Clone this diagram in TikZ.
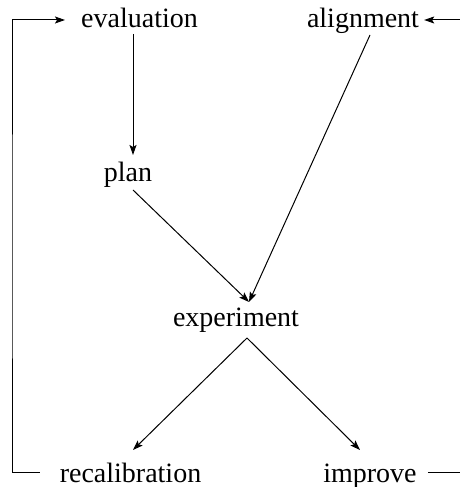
\documentclass[tikz,border=0pt]{standalone}
\usepackage{fontspec}
\setmainfont{Liberation Serif}
\usetikzlibrary{arrows.meta}
\begin{document}
\begin{tikzpicture}[x=1pt,y=1pt,
  lbl/.style={inner sep=0pt,anchor=base,font=\fontsize{28}{34}\selectfont},
  conn/.style={line width=1pt},
  arr/.style={conn,-{Stealth[length=10pt,width=7pt,inset=2pt]}}]
\useasboundingbox (0,0) rectangle (460,487);
\node[lbl] (eval) at (139.5,459) {evaluation};
\node[lbl] (align) at (363,459) {alignment};
\node[lbl] (plan) at (128,305) {plan};
\node[lbl] (exper) at (236,160) {experiment};
\node[lbl] (recal) at (130.5,5) {recalibration};
\node[lbl] (improve) at (370,5) {improve};
\coordinate (loopL) at (12,240);
\coordinate (rtop) at (460,467);
\coordinate (rbot) at (460,14);
% loop on the left
\draw[arr] ([xshift=-20pt,yshift=9pt]recal.base west) -| (loopL) |- ([xshift=-16pt,yshift=8pt]eval.base west);
% right side
\draw[arr] (rtop) -- ([xshift=5pt,yshift=8pt]align.base east);
\draw[conn] ([xshift=11pt,yshift=9pt]improve.base east) -- (rbot);
% main edges
\draw[arr] ([xshift=-6.5pt,yshift=-6pt]eval.base) -- ([xshift=5pt,yshift=27pt]plan.base);
\draw[arr] ([xshift=5pt,yshift=-8pt]plan.base) -- ([xshift=13pt,yshift=25pt]exper.base);
\draw[arr] ([xshift=7pt,yshift=-7pt]align.base) -- ([xshift=13pt,yshift=25pt]exper.base);
\draw[arr] ([xshift=11pt,yshift=-11pt]exper.base) -- ([xshift=2.5pt,yshift=32pt]recal.base);
\draw[arr] ([xshift=11pt,yshift=-11pt]exper.base) -- ([xshift=-10pt,yshift=32pt]improve.base);
\end{tikzpicture}
\end{document}
